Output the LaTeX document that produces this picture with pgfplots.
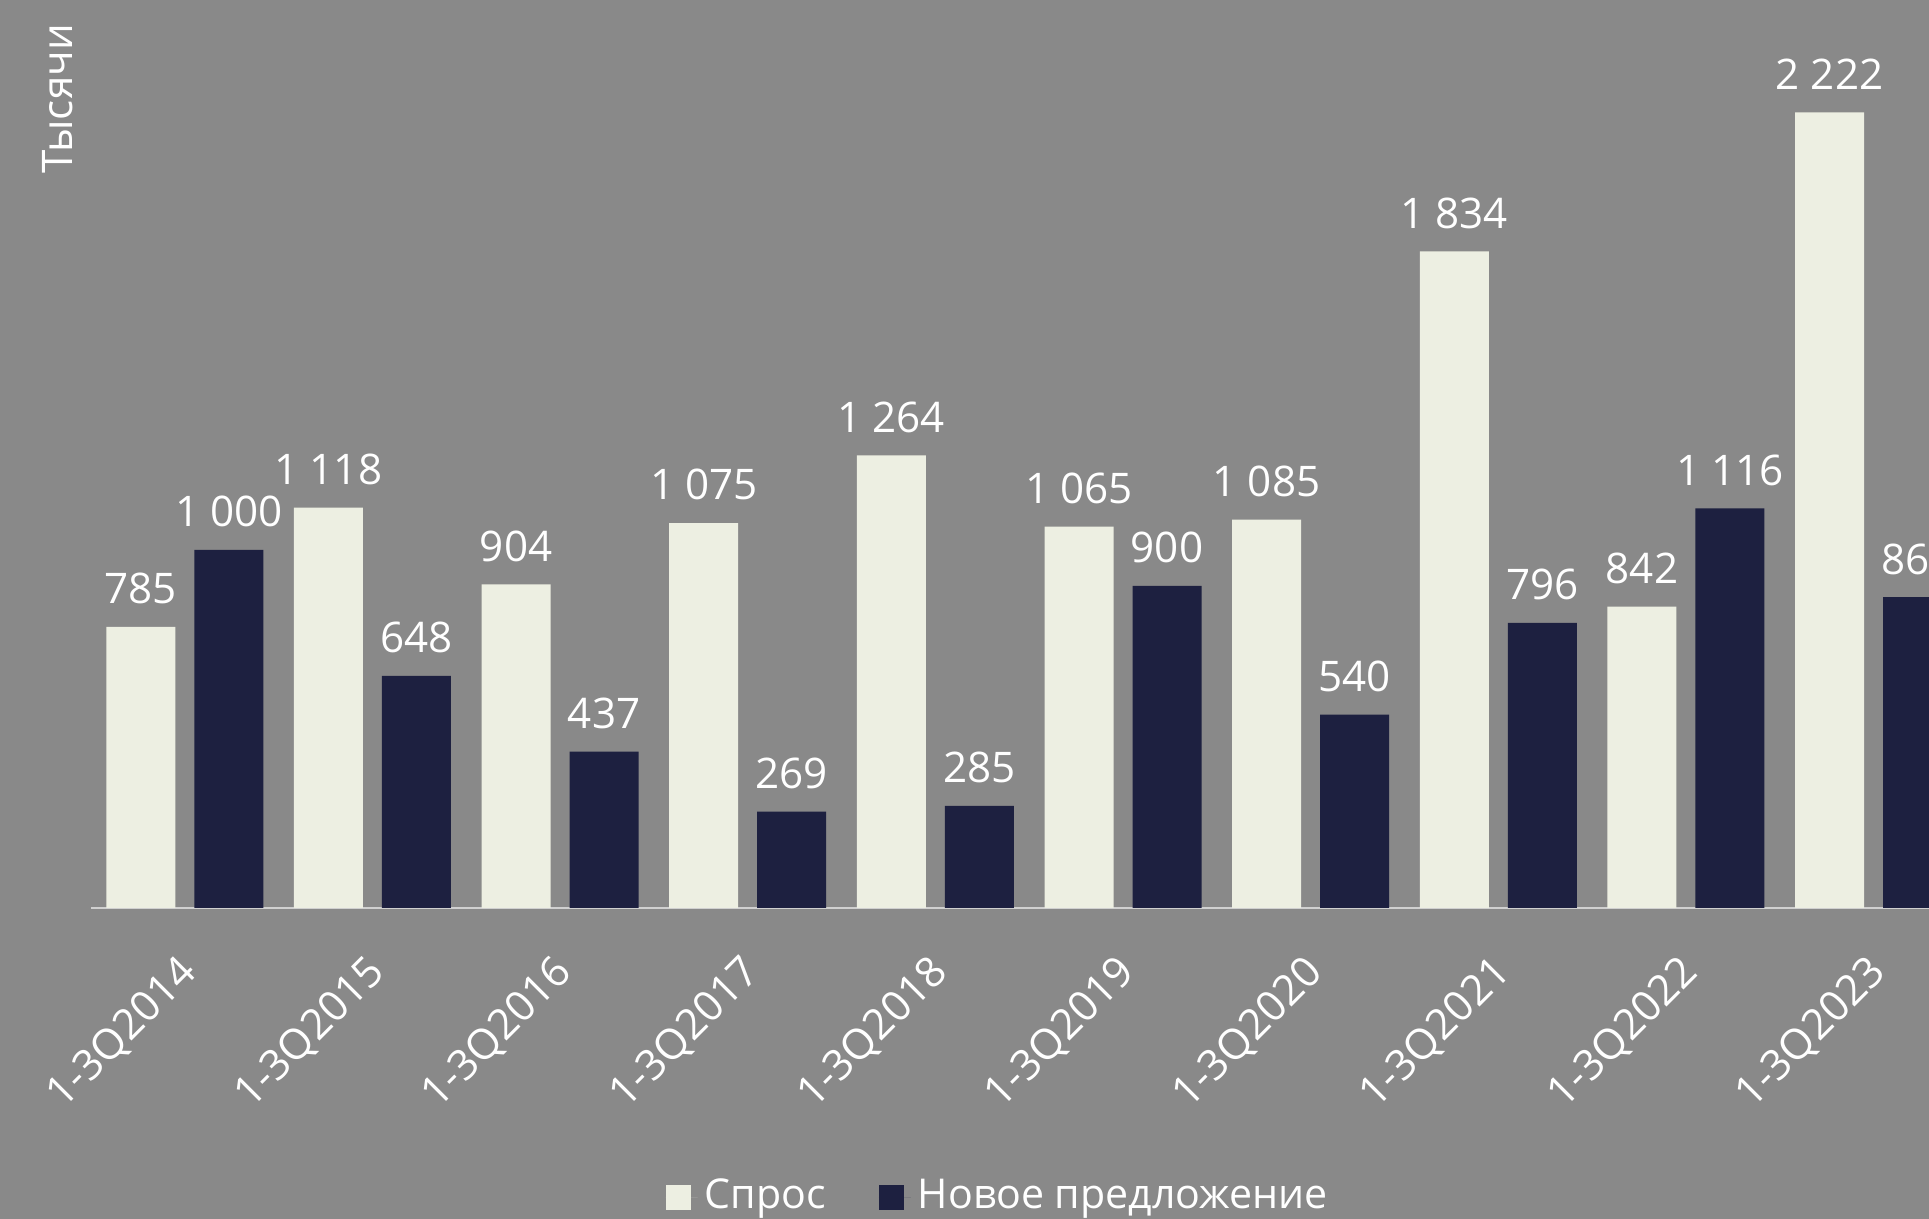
\documentclass[border=0pt]{standalone}
\usepackage{fontspec}
\setmainfont{Open Sans}
\usepackage{pgfplots}
\pgfplotsset{compat=1.18}
\definecolor{bgc}{HTML}{898989}
\definecolor{lightbar}{HTML}{EDEFE2}
\definecolor{darkbar}{HTML}{1D2040}
\definecolor{axisline}{HTML}{D0D0D0}
\begin{document}
\fontsize{12}{14}\selectfont
\begin{tikzpicture}
\fill[bgc] (-9.1mm,-31.1mm) rectangle (183.8mm,90.8mm);
\begin{axis}[
  at={(0,0)}, anchor=south west,
  scale only axis, width=183.8mm, height=90.8mm,
  xmin=-0.5, xmax=9.2955, ymin=0, ymax=2536,
  axis x line*=bottom, axis y line*=left,
  x axis line style={draw=axisline, line width=0.2mm, -},
  y axis line style={draw=none},
  xtick={0,1,2,3,4,5,6,7,8,9},
  xticklabels={1-3Q2014,1-3Q2015,1-3Q2016,1-3Q2017,1-3Q2018,1-3Q2019,1-3Q2020,1-3Q2021,1-3Q2022,1-3Q2023},
  major tick length=0pt,
  ytick=\empty,
  xticklabel style={font=\fontsize{12}{14}\selectfont, text=white, inner sep=0pt, xshift=0.6mm, yshift=-5.8mm, rotate=45, anchor=east},
  ylabel={Тысячи},
  every axis y label/.style={at={(axis description cs:-0.018,0.891)}, rotate=90, anchor=center, font=\fontsize{12}{14}\selectfont, text=white},
  ybar, bar width=6.9mm,
  nodes near coords,
  every node near coord/.append style={font=\fontsize{12}{14}\selectfont, text=white, anchor=south, inner sep=0pt, yshift=2.2mm},
  /pgf/number format/1000 sep={\ },
  /pgf/number format/assume math mode=true,
  legend columns=2,
  legend style={draw=none, fill=none, font=\fontsize{11.7}{14}\selectfont, text=white,
    at={(axis description cs:0.4946,-0.3183)}, anchor=center,
    /tikz/every even column/.append style={column sep=4.6mm}},
]
\addplot[fill=lightbar, draw=none, bar shift=-4.4mm,
  legend image code/.code={\fill[lightbar] (0mm,-1.25mm) rectangle (2.5mm,1.25mm); \path (0mm,0mm) -- (3.2mm,0mm);}]
  coordinates {(0,785) (1,1118) (2,904) (3,1075) (4,1264) (5,1065) (6,1085) (7,1834) (8,842) (9,2222)};
\addlegendentry{Спрос}
\addplot[fill=darkbar, draw=none, bar shift=4.4mm,
  legend image code/.code={\fill[darkbar] (0mm,-1.25mm) rectangle (2.5mm,1.25mm); \path (0mm,0mm) -- (3.2mm,0mm);}]
  coordinates {(0,1000) (1,648) (2,437) (3,269) (4,285) (5,900) (6,540) (7,796) (8,1116) (9,868)};
\addlegendentry{Новое предложение}
\end{axis}
\pgfresetboundingbox
\useasboundingbox (-9.1mm,-31.1mm) rectangle (183.8mm,90.8mm);
\end{tikzpicture}
\end{document}
